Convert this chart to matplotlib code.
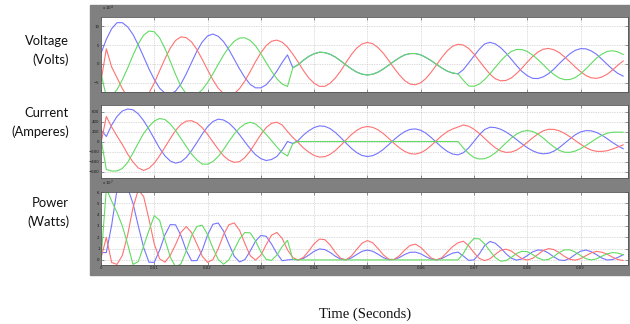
import numpy as np
import matplotlib

matplotlib.use("Agg")
import matplotlib.pyplot as plt
from matplotlib.patches import Rectangle

# one reading per millisecond, 0 .. 98 ms
t_ms = np.arange(99)

# phase voltages (x 1e4 V)
v_blue = [2.8, 6.5, 9.3, 10.9, 10.9, 9.8, 7.8, 5.0, 1.9, -1.3,
          -4.1, -6.4, -7.7, -8.0, -7.15, -5.3, -2.6, 0.4, 3.4, 5.8,
          7.4, 7.9, 7.3, 5.9, 3.8, 1.25, -1.3, -3.6, -5.4, -6.3,
          -6.3, -5.5, -3.9, -1.9, 0.4, 2.4, -1.0, -0.2, 1.0, 2.0,
          2.7, 3.1, 3.0, 2.55, 1.8, 0.8, -0.3, -1.3, -2.15, -2.7,
          -2.9, -2.7, -2.15, -1.3, -0.3, 0.72, 1.65, 2.4, 2.75, 2.75,
          2.4, 1.7, 0.85, -0.15, -1.1, -1.9, -2.4, -2.6, -1.5, 0.3,
          2.1, 3.9, 5.3, 5.7, 5.3, 4.3, 2.9, 1.25, -0.45, -1.97,
          -3.1, -3.8, -3.85, -3.4, -2.55, -1.35, 0.1, 1.45, 2.7, 3.6,
          4.05, 4.0, 3.45, 2.55, 1.25, -0.1, -1.4, -2.5, -3.2]
v_green = [-2.5, -8.7, -8.4, -6.8, -4.2, -1.1, 2.3, 5.3, 7.6, 8.7,
           8.5, 6.9, 4.1, 0.7, -2.8, -5.9, -7.9, -8.5, -8.0, -6.8,
           -4.9, -2.6, -0.1, 2.35, 4.4, 6.0, 6.85, 6.9, 6.2, 4.8,
           2.7, 0.37, -1.9, -3.9, -5.3, -5.95, -1.0, -0.2, 1.0, 2.0,
           2.7, 3.1, 3.0, 2.55, 1.8, 0.8, -0.3, -1.3, -2.15, -2.7,
           -2.9, -2.7, -2.15, -1.3, -0.3, 0.72, 1.65, 2.4, 2.75, 2.75,
           2.4, 1.7, 0.85, -0.15, -1.1, -1.9, -2.4, -2.6, -4.3, -5.8,
           -5.9, -5.3, -4.1, -2.6, -0.9, 0.8, 2.2, 3.3, 3.85, 3.8,
           3.3, 2.35, 1.15, -0.2, -1.6, -2.8, -3.7, -4.15, -4.1, -3.6,
           -2.6, -1.3, 0.15, 1.55, 2.6, 3.3, 3.5, 3.2, 2.5]
v_red = [-4.6, 4.0, -0.8, -3.6, -6.5, -8.8, -10.2, -10.5, -9.6, -7.7,
         -5.0, -1.8, 1.35, 4.2, 6.2, 7.15, 6.95, 5.8, 3.8, 1.2,
         -1.55, -4.2, -6.4, -7.8, -8.3, -7.85, -6.5, -4.5, -2.0, 0.6,
         2.95, 4.85, 6.0, 6.3, 5.75, 4.45, 2.6, 0.5, -1.75, -3.7,
         -5.1, -5.9, -5.9, -5.1, -3.65, -1.8, 0.4, 2.5, 4.2, 5.3,
         5.7, 5.35, 4.3, 2.8, 0.9, -1.1, -2.9, -4.4, -5.3, -5.5,
         -4.95, -3.8, -2.1, -0.15, 1.8, 3.5, 4.7, 5.2, 5.0, 4.1,
         2.6, 0.8, -1.0, -2.7, -3.9, -4.45, -4.35, -3.7, -2.5, -1.1,
         0.5, 1.95, 3.15, 3.9, 4.1, 3.75, 3.0, 1.85, 0.55, -0.8,
         -2.05, -3.05, -3.65, -3.8, -3.45, -2.7, -1.6, -0.3, 0.8]

# phase currents (A)
i_blue = [230, 100, 330, 500, 610, 650, 634, 553, 417, 244,
          54, -135, -287, -390, -433, -407, -319, -182, -19, 148,
          297, 399, 447, 430, 368, 265, 137, -8, -144, -264,
          -343, -380, -360, -300, -170, 0, -40, 20, 130, 215,
          280, 312, 303, 258, 178, 77, -33, -138, -223, -280,
          -300, -283, -232, -156, -62, 37, 126, 198, 242, 252,
          225, 165, 76, -23, -119, -199, -251, -267, -225, -128,
          2, 135, 240, 286, 278, 246, 191, 119, 37, -47,
          -124, -186, -228, -247, -235, -193, -123, -35, 52, 134,
          191, 218, 213, 181, 126, 56, -20, -88, -145]
i_green = [50, -560, -590, -590, -540, -420, -230, -30, 160, 300,
           410, 460, 440, 350, 220, 60, -100, -250, -370, -450,
           -455, -400, -300, -160, 0, 150, 270, 350, 385, 350,
           260, 140, 20, -110, -220, -290, -40, 0, 0, 0,
           0, 0, 0, 0, 0, 0, 0, 0, 0, 0,
           0, 0, 0, 0, 0, 0, 0, 0, 0, 0,
           0, 0, 0, 0, 0, 0, 0, 0, -130, -240,
           -320, -350, -344, -301, -227, -132, -29, 68, 148, 201,
           220, 201, 147, 68, -23, -110, -178, -215, -217, -191,
           -145, -80, -10, 61, 122, 165, 186, 187, 185]
i_red = [-33, 500, 290, 110, -60, -250, -410, -530, -578, -535,
         -434, -285, -115, 60, 220, 340, 408, 416, 368, 277,
         143, -8, -155, -286, -374, -417, -403, -321, -190, -25,
         141, 278, 364, 386, 330, 200, 80, -20, -130, -215,
         -280, -312, -303, -258, -178, -77, 33, 138, 223, 280,
         300, 283, 232, 156, 62, -37, -126, -198, -242, -252,
         -225, -165, -76, 23, 119, 199, 251, 290, 330, 306,
         245, 162, 62, -37, -126, -188, -218, -211, -171, -103,
         -17, 72, 151, 214, 245, 242, 214, 162, 95, 20,
         -55, -122, -171, -197, -198, -185, -150, -110, -67]

# phase powers (x 1e7 W)
p_blue = [0.64, 0.65, 3.07, 6.2, 6.65, 6.37, 5.0, 3.0, 1.1, -0.2,
          -0.22, 0.86, 2.21, 3.12, 3.10, 2.16, 0.83, -0.07, -0.06, 0.86,
          2.2, 3.15, 3.26, 2.54, 1.4, 0.33, -0.18, 0.03, 0.78, 1.66,
          2.16, 2.09, 1.40, 0.57, -0.07, 0.0, 0.04, 0.0, 0.13, 0.43,
          0.76, 0.97, 0.91, 0.66, 0.32, 0.06, 0.01, 0.18, 0.48, 0.76,
          0.87, 0.76, 0.5, 0.2, 0.02, 0.03, 0.21, 0.48, 0.67, 0.69,
          0.54, 0.28, 0.06, 0.0, 0.13, 0.38, 0.6, 0.69, 0.34, -0.04,
          0.0, 0.53, 1.27, 1.63, 1.47, 1.06, 0.55, 0.15, -0.02, 0.09,
          0.38, 0.71, 0.88, 0.84, 0.6, 0.26, -0.01, -0.05, 0.14, 0.48,
          0.77, 0.87, 0.73, 0.46, 0.16, -0.01, 0.03, 0.22, 0.46]
p_green = [0.0, 6.3, 5.2, 4.2, 3.0, 1.4, -0.4, -0.15, 1.22, 2.61,
           3.9, 3.5, 1.8, 0.25, -0.62, -0.35, 0.79, 2.13, 2.96, 3.06,
           2.23, 1.04, 0.03, -0.38, 0.0, 0.9, 1.85, 2.42, 2.39, 1.68,
           0.7, 0.05, -0.04, 0.43, 1.17, 1.73, 0.04, 0.0, 0.0, 0.0,
           0.0, 0.0, 0.0, 0.0, 0.0, 0.0, 0.0, 0.0, 0.0, 0.0,
           0.0, 0.0, 0.0, 0.0, 0.0, 0.0, 0.0, 0.0, 0.0, 0.0,
           0.0, 0.0, 0.0, 0.0, 0.0, 0.0, 0.0, 0.0, 0.56, 1.39,
           1.89, 1.86, 1.41, 0.78, 0.2, -0.11, -0.06, 0.22, 0.57, 0.76,
           0.73, 0.47, 0.17, -0.01, 0.04, 0.31, 0.66, 0.89, 0.89, 0.69,
           0.38, 0.1, 0.0, 0.09, 0.32, 0.54, 0.65, 0.6, 0.46]
p_red = [0.15, 2.0, -0.23, -0.4, 0.39, 2.2, 4.6, 6.2, 5.6, 3.6,
         1.4, 0.1, -0.2, 0.4, 1.36, 2.43, 2.95, 2.41, 1.4, 0.33,
         -0.22, 0.03, 0.99, 2.23, 3.1, 3.27, 2.62, 1.45, 0.38, -0.02,
         0.42, 1.35, 2.18, 2.43, 1.9, 0.89, 0.21, -0.01, 0.23, 0.8,
         1.43, 1.84, 1.79, 1.32, 0.65, 0.14, 0.01, 0.35, 0.94, 1.48,
         1.71, 1.51, 1.0, 0.44, 0.06, 0.04, 0.37, 0.87, 1.28, 1.39,
         1.11, 0.63, 0.16, 0.0, 0.21, 0.7, 1.18, 1.51, 1.65, 1.25,
         0.64, 0.13, -0.06, 0.1, 0.49, 0.84, 0.95, 0.78, 0.43, 0.11,
         -0.01, 0.14, 0.48, 0.83, 1.0, 0.91, 0.64, 0.3, 0.05, -0.02,
         0.11, 0.37, 0.62, 0.75, 0.68, 0.5, 0.24, 0.03, -0.05]

x_ticks = [0, 0.01, 0.02, 0.03, 0.04, 0.05, 0.06, 0.07, 0.08, 0.09]
x_ticklabels = ["0", "0.01", "0.02", "0.03", "0.04", "0.05", "0.06", "0.07", "0.08", "0.09"]
v_ticks = [-5, 0, 5, 10]
i_ticks = [-600, -400, -200, 0, 200, 400, 600]
p_ticks = [0, 1, 2, 3, 4, 5, 6]

BLUE, GREEN, RED = "#7474ff", "#62dc62", "#ff7272"
W, H = 630, 324

t = t_ms / 1000.0

fig = plt.figure(figsize=(W / 100, H / 100), dpi=100)
# grey scope background behind the three axes
fig.patches.append(Rectangle((90 / W, 1 - 275 / H), 540 / W, 270 / H,
                             transform=fig.transFigure, color="#808080", zorder=-5))


def make_axes(top, bottom):
    ax = fig.add_axes([101 / W, 1 - bottom / H, 527 / W, (bottom - top) / H])
    ax.set_zorder(2)
    ax.set_facecolor("white")
    ax.set_xlim(0, 0.0989)
    ax.set_xticks(x_ticks)
    ax.grid(True, color="#b8b8b8", ls=(0, (1, 1.5)), lw=0.5)
    ax.tick_params(direction="in", length=2.5, width=0.5, colors="#666666",
                   labelcolor="#1a1a1a", labelsize=2.8, top=True, right=True, pad=1)
    for s in ax.spines.values():
        s.set_color("#555555")
        s.set_linewidth(0.6)
    return ax


panels = [
    (17, 92, (v_blue, v_green, v_red), (-7.4, 12.4), v_ticks, r"x 10$^{4}$"),
    (105, 178, (i_blue, i_green, i_red), (-730, 730), i_ticks, None),
    (192, 265, (p_blue, p_green, p_red), (-0.45, 6.0), p_ticks, r"x 10$^{7}$"),
]

for k, (top, bottom, (yb, yg, yr), ylim, yt, expo) in enumerate(panels):
    ax = make_axes(top, bottom)
    ax.plot(t, yb, color=BLUE, lw=0.8)
    ax.plot(t, yr, color=RED, lw=0.8)
    ax.plot(t, yg, color=GREEN, lw=0.8)
    ax.set_ylim(*ylim)
    ax.set_yticks(yt)
    if k < 2:
        ax.tick_params(labelbottom=False)
    else:
        ax.set_xticklabels(x_ticklabels)
    if expo:
        ax.text(0.002, 1 + 4 / (bottom - top), expo, transform=ax.transAxes,
                fontsize=2.8, color="#1a1a1a", va="bottom", ha="left")

labels = [("Voltage", 41), ("(Volts)", 60), ("Current", 113), ("(Amperes)", 132),
          ("Power", 203), ("(Watts)", 222)]
for txt, y in labels:
    fig.text(69 / W, 1 - y / H, txt, ha="right", va="center", fontsize=9.4,
             family="Lato", color="#111111")

fig.text(365 / W, 1 - 314 / H, "Time (Seconds)", ha="center", va="center",
         fontsize=10.5, family="Liberation Serif", color="#111111")

fig.savefig("out.png", dpi=100)
